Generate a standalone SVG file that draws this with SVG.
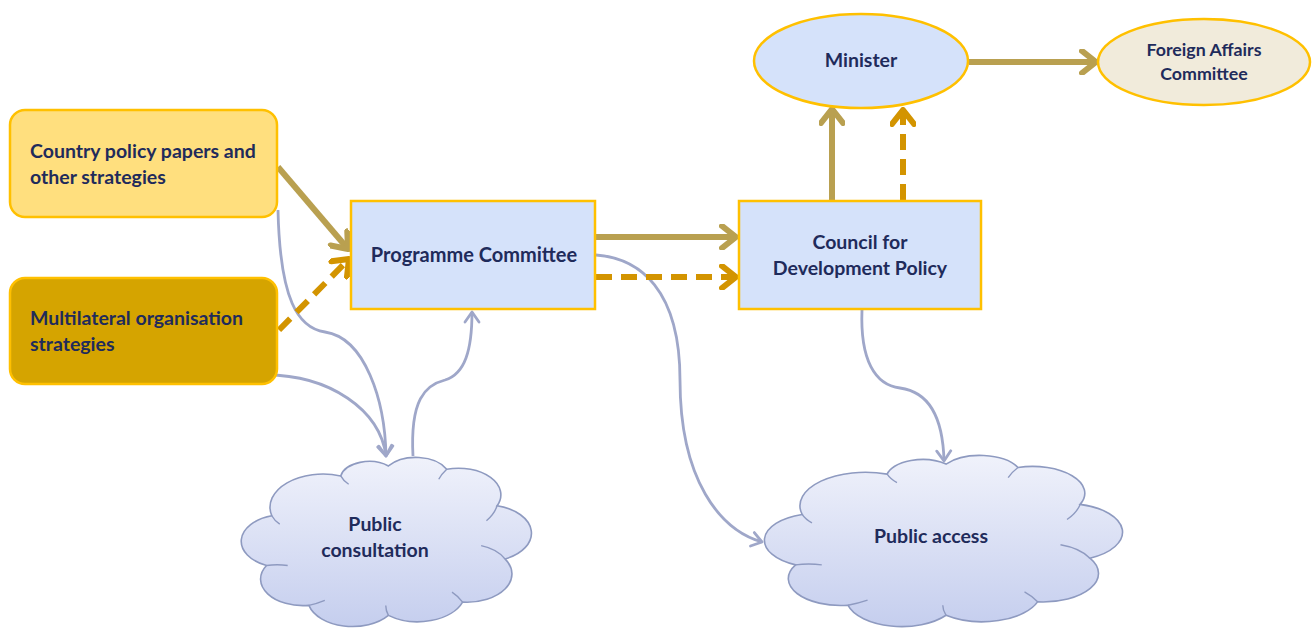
<svg xmlns="http://www.w3.org/2000/svg" width="1314" height="628" viewBox="0 0 1314 628">
<defs>
<style>
.t{font-family:Lato,"Liberation Sans",sans-serif;font-weight:bold;font-size:19.5px;fill:#1F2B5B}
.tc{text-anchor:middle}
.tan{fill:none;stroke:#B9A050;stroke-width:6}
.org{fill:none;stroke:#D39400;stroke-width:6;stroke-dasharray:16 9}
.gry{fill:none;stroke:#9FA7C9;stroke-width:2.8}
.box{stroke:#FFC000;stroke-width:2.5}
.cloud{fill:url(#cg);stroke:#8E9AC0;stroke-width:1.6}
.inner{fill:none;stroke:#8E9AC0;stroke-width:1.4}
</style>
<linearGradient id="cg" x1="0" y1="0" x2="0" y2="1">
<stop offset="0" stop-color="#F0F2FB"/>
<stop offset="1" stop-color="#C5CEEE"/>
</linearGradient>
<marker id="mt" markerUnits="userSpaceOnUse" viewBox="0 0 20 26" refX="17" refY="13" markerWidth="20" markerHeight="26" orient="auto">
<path d="M3,2 L17,13 L3,24" fill="none" stroke="#B9A050" stroke-width="6" stroke-linecap="round" stroke-linejoin="round"/>
</marker>
<marker id="mo" markerUnits="userSpaceOnUse" viewBox="0 0 20 26" refX="17" refY="13" markerWidth="20" markerHeight="26" orient="auto">
<path d="M3,2 L17,13 L3,24" fill="none" stroke="#D39400" stroke-width="6" stroke-linecap="round" stroke-linejoin="round"/>
</marker>
<marker id="mg" markerUnits="userSpaceOnUse" viewBox="0 0 14 18" refX="12" refY="9" markerWidth="14" markerHeight="18" orient="auto">
<path d="M2,2 L12,9 L2,16" fill="none" stroke="#9FA7C9" stroke-width="2.8" stroke-linecap="round" stroke-linejoin="round"/>
</marker>
<path id="cloudShape" class="cloud" vector-effect="non-scaling-stroke" d="M8,36 A20,20 0 0 1 34,12 A11,11 0 0 1 52,6 A13,13 0 0 1 74,8 A16,16 0 0 1 93,30 A17,17 0 0 1 96,62 A17,17 0 0 1 80,88 A18,18 0 0 1 52,96 A17,17 0 0 1 22,90 A16,16 0 0 1 6,66 A16,16 0 0 1 8,36 Z"/>
<path id="cloudInner" class="inner" vector-effect="non-scaling-stroke" d="M8,36 Q9,39 11,41 M6,66 Q10,65 14,66 M34,12 Q35,15 37,17 M74,8 Q72,11 71,14 M93,30 Q92,35 89,39 M96,62 Q93,56 87,54 M80,88 Q78,84 76,82 M52,96 Q51,93 51,90 M22,90 Q25,89 28,87"/>
</defs>
<rect width="1314" height="628" fill="#FFFFFF"/>

<g id="connectors">
<path class="gry" d="M278,210 C280,300 298,328 325,332 C365,338 385,400 386,456" marker-end="url(#mg)"/>
<path class="gry" d="M266,375 C330,375 380,410 386,456" marker-end="url(#mg)"/>
<path class="gry" d="M413,456 C410,400 425,385 445,380 C465,374 472,350 472,312" marker-end="url(#mg)"/>
<path class="gry" d="M596,255 C640,258 680,290 680,380 C680,480 720,530 762,542" marker-end="url(#mg)"/>
<path class="gry" d="M862,310 C860,360 875,385 900,388 C930,392 943,420 944,461" marker-end="url(#mg)"/>
<line class="tan" x1="278" y1="167" x2="348" y2="249" marker-end="url(#mt)"/>
<line class="org" x1="279" y1="330" x2="349" y2="259" marker-end="url(#mo)"/>
<line class="tan" x1="596" y1="237" x2="736" y2="237" marker-end="url(#mt)"/>
<line class="org" x1="596" y1="277" x2="736" y2="277" marker-end="url(#mo)"/>
<line class="tan" x1="832" y1="200" x2="832" y2="109" marker-end="url(#mt)"/>
<line class="org" x1="903" y1="200" x2="903" y2="110" marker-end="url(#mo)"/>
<line class="tan" x1="969" y1="62" x2="1096" y2="62" marker-end="url(#mt)"/>
</g>

<g id="country">
<rect class="box" x="10" y="110" width="267" height="107" rx="15" fill="#FFDF7E"/>
<text class="t" x="30" y="158">Country policy papers and</text>
<text class="t" x="30" y="184">other strategies</text>
</g>

<g id="multilateral">
<rect class="box" x="10" y="278" width="267" height="106" rx="15" fill="#D5A400"/>
<text class="t" x="30" y="325">Multilateral organisation</text>
<text class="t" x="30" y="351">strategies</text>
</g>

<g id="programme">
<rect class="box" x="351" y="201" width="244" height="108" fill="#D5E2FA"/>
<text class="t tc" x="474" y="262" style="font-size:20px">Programme Committee</text>
</g>

<g id="council">
<rect class="box" x="739" y="201" width="242" height="108" fill="#D5E2FA"/>
<text class="t tc" x="860" y="249">Council for</text>
<text class="t tc" x="860" y="275">Development Policy</text>
</g>

<g id="minister">
<ellipse class="box" cx="861" cy="61" rx="107" ry="47" fill="#D5E2FA"/>
<text class="t tc" x="861" y="67">Minister</text>
</g>

<g id="foreign">
<ellipse class="box" cx="1204" cy="62" rx="106" ry="43" fill="#F1EBDB"/>
<text class="t tc" x="1204" y="56" style="font-size:17.8px">Foreign Affairs</text>
<text class="t tc" x="1204" y="80" style="font-size:17.8px">Committee</text>
</g>

<g id="consultation">
<g transform="translate(250.6,456) scale(2.65,1.66)">
<use href="#cloudShape"/>
<use href="#cloudInner"/>
</g>
<text class="t tc" x="375" y="531">Public</text>
<text class="t tc" x="375" y="557">consultation</text>
</g>

<g id="access">
<g transform="translate(776,454) scale(3.27,1.68)">
<use href="#cloudShape"/>
<use href="#cloudInner"/>
</g>
<text class="t tc" x="931" y="543">Public access</text>
</g>
</svg>
